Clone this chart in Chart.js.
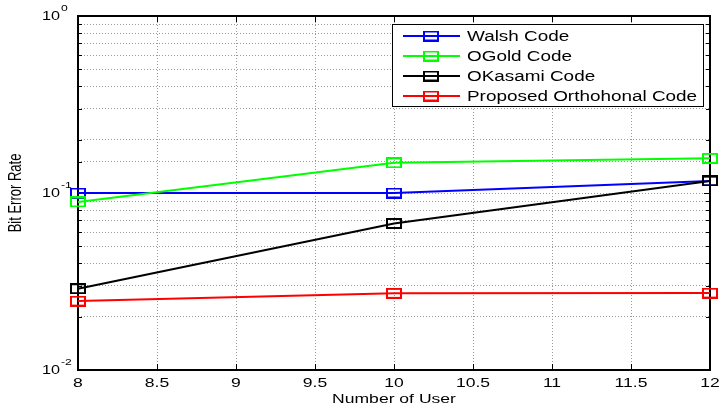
<!DOCTYPE html>
<html>
<head>
<meta charset="utf-8">
<script src="https://cdn.jsdelivr.net/npm/chart.js@4.4.0/dist/chart.umd.min.js"></script>
<style>
  html, body { margin: 0; padding: 0; background: #fff; }
  #wrap { width: 720px; height: 412px; }
</style>
</head>
<body>
<div id="wrap"><canvas id="berChart" width="720" height="412"></canvas></div>
<script>
// ----------- DATA -----------
const users = [8, 10, 12];
const walshBer = [0.1, 0.1, 0.117];
const ogoldBer = [0.089, 0.148, 0.157];
const okasamiBer = [0.0288, 0.0673, 0.117];
const proposedBer = [0.0245, 0.0271, 0.0272];
const seriesNames = ['Walsh Code', 'OGold Code', 'OKasami Code', 'Proposed Orthohonal Code'];
const xTickValues = [8, 8.5, 9, 9.5, 10, 10.5, 11, 11.5, 12];
const yDecades = [0.01, 0.1, 1];
const yExponents = ['-2', '-1', '0'];

const SX = 1.35; // the picture is stretched sideways, so is its text
const FONT = '"Liberation Sans", Arial, sans-serif';

// hollow rectangle marker, like MATLAB 's'
function makeMarker(color) {
  const c = document.createElement('canvas');
  c.width = 16; c.height = 11;
  const g = c.getContext('2d');
  g.strokeStyle = color;
  g.lineWidth = 2;
  g.strokeRect(1, 1, 14, 9);
  return c;
}

function pts(ys) {
  return users.map((u, i) => ({ x: u, y: ys[i] }));
}

function series(label, ys, color, order) {
  return {
    label: label,
    data: pts(ys),
    borderColor: color,
    backgroundColor: color,
    borderWidth: 2,
    pointStyle: makeMarker(color),
    pointRadius: 6,
    tension: 0,
    clip: false,
    order: order
  };
}

function stretchText(ctx, text, x, y, align, baseline, font) {
  ctx.save();
  ctx.font = font;
  ctx.fillStyle = '#000';
  ctx.textAlign = align;
  ctx.textBaseline = baseline;
  ctx.translate(x, y);
  ctx.scale(SX, 1);
  ctx.fillText(text, 0, 0);
  ctx.restore();
}

// ----------- FRAME, TICKS, LABELS, LEGEND -----------
const matlabFrame = {
  id: 'matlabFrame',
  beforeDatasetsDraw(chart) {
    const ctx = chart.ctx;
    const a = chart.chartArea;
    const xs = chart.scales.x;
    const ys = chart.scales.y;

    // box
    ctx.save();
    ctx.strokeStyle = '#000';
    ctx.lineWidth = 2;
    ctx.strokeRect(a.left, a.top, a.right - a.left, a.bottom - a.top);

    // inward ticks
    ctx.lineWidth = 1;
    ctx.beginPath();
    ys.ticks.forEach(t => {
      const p = Math.round(ys.getPixelForValue(t.value)) + 0.5;
      const len = yDecades.includes(t.value) ? 6 : 4;
      ctx.moveTo(a.left, p); ctx.lineTo(a.left + len, p);
      ctx.moveTo(a.right, p); ctx.lineTo(a.right - len, p);
    });
    xTickValues.forEach(v => {
      const p = Math.round(xs.getPixelForValue(v)) + 0.5;
      ctx.moveTo(p, a.bottom); ctx.lineTo(p, a.bottom - 6);
      ctx.moveTo(p, a.top); ctx.lineTo(p, a.top + 6);
    });
    ctx.stroke();
    ctx.restore();

    // x tick labels
    xTickValues.forEach(v => {
      stretchText(ctx, String(v), xs.getPixelForValue(v), a.bottom + 13, 'center', 'middle', '13px ' + FONT);
    });
    // y tick labels 10^n
    yDecades.forEach((v, i) => {
      const p = ys.getPixelForValue(v);
      stretchText(ctx, '10', a.left - 18, p + 1, 'right', 'middle', '12px ' + FONT);
      stretchText(ctx, yExponents[i], a.left - 17, p - 7, 'left', 'middle', '9px ' + FONT);
    });

    // axis titles
    stretchText(ctx, 'Number of User', (a.left + a.right) / 2, a.bottom + 29, 'center', 'middle', '13px ' + FONT);
    ctx.save();
    ctx.font = '13px ' + FONT;
    ctx.fillStyle = '#000';
    ctx.textAlign = 'center';
    ctx.textBaseline = 'middle';
    ctx.translate(16, (a.top + a.bottom) / 2);
    ctx.scale(SX, 1);
    ctx.rotate(-Math.PI / 2);
    ctx.fillText('Bit Error Rate', 0, 0);
    ctx.restore();
  },
  afterDraw(chart) {
    const ctx = chart.ctx;
    // legend box
    const lx = 392, ly = 24, lw = 311, lh = 82;
    ctx.save();
    ctx.fillStyle = '#fff';
    ctx.fillRect(lx, ly, lw, lh);
    ctx.strokeStyle = '#000';
    ctx.lineWidth = 1;
    ctx.strokeRect(lx + 0.5, ly + 0.5, lw, lh);
    ctx.restore();
    chart.data.datasets.forEach((ds, i) => {
      const ry = ly + 12 + i * 20;
      ctx.save();
      ctx.strokeStyle = ds.borderColor;
      ctx.lineWidth = 2;
      ctx.beginPath();
      ctx.moveTo(403, ry); ctx.lineTo(460, ry);
      ctx.stroke();
      ctx.drawImage(ds.pointStyle, 431 - 8, ry - 5.5);
      ctx.restore();
      stretchText(ctx, ds.label, 467, ry + 1, 'left', 'middle', '14px ' + FONT);
    });
  }
};

// ----------- CHART -----------
const ctx = document.getElementById('berChart').getContext('2d');
const berChart = new Chart(ctx, {
  type: 'line',
  data: {
    datasets: [
      series(seriesNames[0], walshBer, '#0000ff', 4),
      series(seriesNames[1], ogoldBer, '#00ff00', 3),
      series(seriesNames[2], okasamiBer, '#000000', 2),
      series(seriesNames[3], proposedBer, '#ff0000', 1)
    ]
  },
  options: {
    responsive: false,
    animation: false,
    layout: { padding: { left: 78, right: 10, top: 16, bottom: 42 } },
    plugins: {
      legend: { display: false },
      tooltip: { enabled: false }
    },
    scales: {
      x: {
        type: 'linear',
        min: 8,
        max: 12,
        ticks: { display: false, stepSize: 0.5 },
        grid: { color: '#9a9a9a', lineWidth: 1, drawTicks: false },
        border: { display: false, dash: [1, 2] }
      },
      y: {
        type: 'logarithmic',
        min: 0.01,
        max: 1,
        ticks: { display: false },
        grid: { color: '#9a9a9a', lineWidth: 1, drawTicks: false },
        border: { display: false, dash: [1, 2] }
      }
    }
  },
  plugins: [matlabFrame]
});
</script>
</body>
</html>
